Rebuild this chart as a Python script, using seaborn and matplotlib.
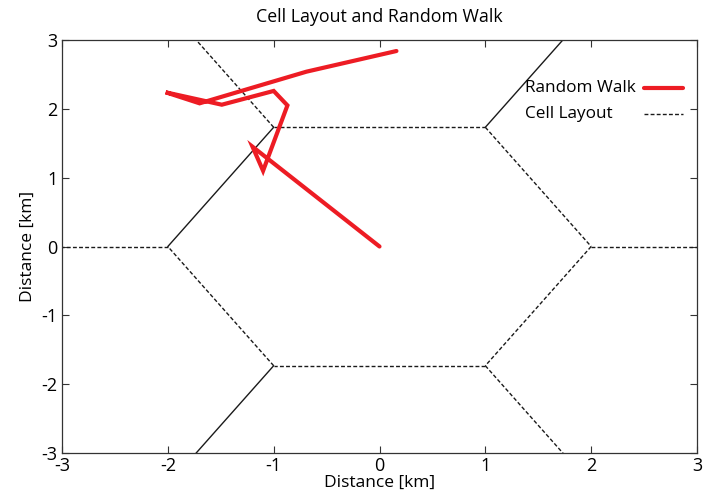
import numpy as np
import pandas as pd
import matplotlib
matplotlib.use("Agg")
import matplotlib.pyplot as plt
import seaborn as sns
from matplotlib.lines import Line2D

# ---- data ----
walk_x = [0.0, -1.20, -1.10, -0.87, -1.00, -1.49, -2.02, -1.70, -0.69, 0.16]
walk_y = [0.0, 1.45, 1.10, 2.05, 2.26, 2.06, 2.24, 2.08, 2.54, 2.84]

# hexagon vertices (cell of radius 2 km)
hex_x = [1.0, 2.0, 1.0, -1.0, -2.0, -1.0, 1.0]
hex_y = [1.732, 0.0, -1.732, -1.732, 0.0, 1.732, 1.732]
# spokes: from each vertex outwards
spoke_x0 = [2.0, 1.0, -1.0, -2.0, -1.0, 1.0]
spoke_y0 = [0.0, 1.732, 1.732, 0.0, -1.732, -1.732]
spoke_x1 = [4.0, 2.0, -2.0, -4.0, -2.0, 2.0]
spoke_y1 = [0.0, 3.464, 3.464, 0.0, -3.464, -3.464]

ticks = [-3, -2, -1, 0, 1, 2, 3]
legend_labels = ["Random Walk", "Cell Layout"]

sns.set_theme(style="white")
plt.rcParams["font.family"] = ["Open Sans", "DejaVu Sans"]
plt.rcParams["text.color"] = "black"
plt.rcParams["axes.labelcolor"] = "black"

fig = plt.figure(figsize=(7.05, 5.01), dpi=100)
ax = fig.add_axes([62 / 705, 48 / 501, 635 / 705, 413 / 501])

dash = (0, (2.8, 1.6))
red = "#ed1c24"
blk = "#1a1a1a"

# cell layout: hexagon edges
solid_edges = {4}
for i in range(len(hex_x) - 1):
    ls = "-" if i in solid_edges else dash
    sns.lineplot(x=[hex_x[i], hex_x[i + 1]], y=[hex_y[i], hex_y[i + 1]], sort=False,
                 ax=ax, color=blk, lw=1.0, linestyle=ls, legend=False)
solid_spokes = {1, 4}
for i in range(len(spoke_x0)):
    ls = "-" if i in solid_spokes else dash
    sns.lineplot(x=[spoke_x0[i], spoke_x1[i]], y=[spoke_y0[i], spoke_y1[i]], sort=False,
                 ax=ax, color=blk, lw=1.0, linestyle=ls, legend=False)

# random walk
walk = pd.DataFrame({"x": walk_x, "y": walk_y})
sns.lineplot(data=walk, x="x", y="y", sort=False, ax=ax, color=red, lw=3.0,
             legend=False)
ax.lines[-1].set_solid_joinstyle("miter")

ax.set_xlim(-3, 3)
ax.set_ylim(-3, 3)
ax.set_xticks(ticks)
ax.set_yticks(ticks)
ax.set_xticklabels([str(t) for t in ticks])
ax.set_yticklabels([str(t) for t in ticks])
ax.tick_params(direction="in", length=5, width=0.8, color="#333333",
               top=True, right=True, bottom=True, left=True,
               labelsize=13, pad=3, labelcolor="black")
for s in ax.spines.values():
    s.set_color("#333333")
    s.set_linewidth(0.9)

ax.set_xlabel("Distance [km]", fontsize=12.5, labelpad=0)
ax.set_ylabel("Distance [km]", fontsize=12.5, labelpad=4)
ax.set_title("Cell Layout and Random Walk", fontsize=12.8, pad=13)

# legend (text left-aligned, sample on the right)
styles = [dict(color=red, lw=3.0, linestyle="-"),
          dict(color=blk, lw=1.0, linestyle=dash)]
ys = [0.883, 0.822]
for lab, st, yy in zip(legend_labels, styles, ys):
    ax.text(0.729, yy, lab, transform=ax.transAxes, ha="left", va="center",
            fontsize=12.3, color="black")
    ax.add_line(Line2D([0.9165, 0.978], [yy, yy], transform=ax.transAxes, **st))

fig.savefig("out.png", dpi=100)
